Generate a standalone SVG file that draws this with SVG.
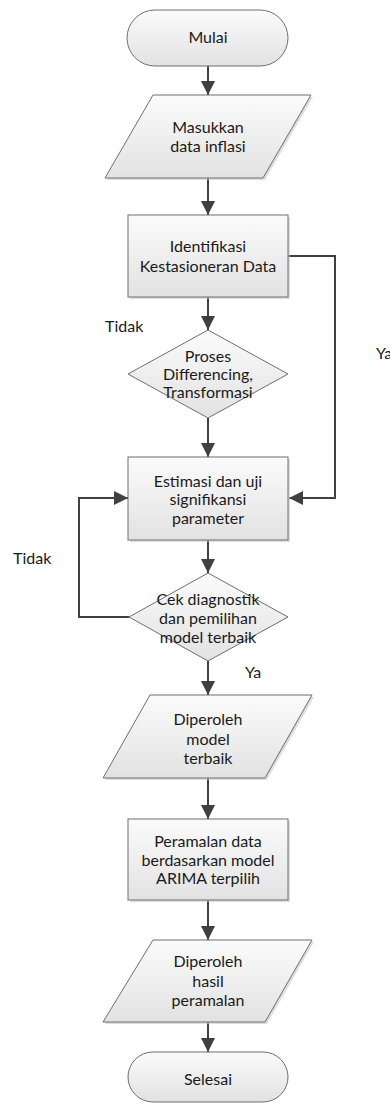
<svg xmlns="http://www.w3.org/2000/svg" width="390" height="1104" viewBox="0 0 390 1104">
<defs>
<linearGradient id="g" x1="0" y1="0" x2="0" y2="1">
<stop offset="0" stop-color="#fbfbfb"/>
<stop offset="1" stop-color="#e2e2e2"/>
</linearGradient>
<marker id="ah" markerUnits="userSpaceOnUse" markerWidth="16" markerHeight="16" viewBox="0 0 16 16" refX="14" refY="8" orient="auto">
<path d="M0,1 L14,8 L0,15 Z" fill="#404040"/>
</marker>
</defs>
<style>
.s{fill:url(#g);stroke:#6e6e6e;stroke-width:1}
.sh{fill:#c8c8c8;opacity:0.6}
.t{font-family:Lato,"Open Sans","Liberation Sans",sans-serif;font-size:16px;fill:#1a1a1a;text-anchor:middle}
.l{font-family:Lato,"Open Sans","Liberation Sans",sans-serif;font-size:16px;fill:#1a1a1a}
.c{fill:none;stroke:#404040;stroke-width:2;marker-end:url(#ah)}
</style>
<g id="connectors">
<path class="c" d="M208,66 V95"/>
<path class="c" d="M208,178 V215"/>
<path class="c" d="M208,297 V330"/>
<path class="c" d="M288,256 H335 V498 H289"/>
<path class="c" d="M208,418 V457"/>
<path class="c" d="M208,540 V573"/>
<path class="c" d="M129,617 H79 V498 H128"/>
<path class="c" d="M208,661 V695"/>
<path class="c" d="M208,778 V819"/>
<path class="c" d="M208,900 V940"/>
<path class="c" d="M208,1022 V1052"/>
</g>
<g id="mulai">
<rect class="s" x="127" y="10" width="161" height="56" rx="28"/>
<text class="t" x="208" y="43">Mulai</text>
</g>
<g id="input">
<polygon class="sh" points="155,97 313,97 265,180 107,180"/>
<polygon class="s" points="153,95 311,95 263,178 105,178"/>
<text class="t" x="208" y="133">Masukkan</text>
<text class="t" x="208" y="152">data inflasi</text>
</g>
<g id="identifikasi">
<rect class="sh" x="130" y="217" width="160" height="82"/>
<rect class="s" x="128" y="215" width="160" height="82"/>
<text class="t" x="208" y="252">Identifikasi</text>
<text class="t" x="208" y="272">Kestasioneran Data</text>
</g>
<g id="differencing">
<polygon class="s" points="208,330 288,374 208,418 128,374"/>
<text class="t" x="208" y="362">Proses</text>
<text class="t" x="208" y="380">Differencing,</text>
<text class="t" x="208" y="398">Transformasi</text>
</g>
<g id="estimasi">
<rect class="sh" x="130" y="459" width="160" height="83"/>
<rect class="s" x="128" y="457" width="160" height="83"/>
<text class="t" x="208" y="487">Estimasi dan uji</text>
<text class="t" x="208" y="505">signifikansi</text>
<text class="t" x="208" y="524">parameter</text>
</g>
<g id="diagnostik">
<polygon class="s" points="208,573 288,617 208,661 129,617"/>
<text class="t" x="208" y="605">Cek diagnostik</text>
<text class="t" x="208" y="624">dan pemilihan</text>
<text class="t" x="208" y="643">model terbaik</text>
</g>
<g id="model">
<polygon class="sh" points="152,697 314,697 267,780 105,780"/>
<polygon class="s" points="150,695 312,695 265,778 103,778"/>
<text class="t" x="208" y="725">Diperoleh</text>
<text class="t" x="208" y="745">model</text>
<text class="t" x="208" y="764">terbaik</text>
</g>
<g id="peramalan">
<rect class="sh" x="130" y="821" width="160" height="81"/>
<rect class="s" x="128" y="819" width="160" height="81"/>
<text class="t" x="208" y="847">Peramalan data</text>
<text class="t" x="208" y="866">berdasarkan model</text>
<text class="t" x="208" y="884">ARIMA terpilih</text>
</g>
<g id="hasil">
<polygon class="sh" points="155,942 314,942 267,1024 105,1024"/>
<polygon class="s" points="153,940 312,940 265,1022 103,1022"/>
<text class="t" x="208" y="967">Diperoleh</text>
<text class="t" x="208" y="987">hasil</text>
<text class="t" x="208" y="1006">peramalan</text>
</g>
<g id="selesai">
<rect class="s" x="128" y="1052" width="160" height="50" rx="25"/>
<text class="t" x="208" y="1085">Selesai</text>
</g>
<g id="labels">
<text class="l" x="105" y="332">Tidak</text>
<text class="l" x="376" y="359">Ya</text>
<text class="l" x="13" y="564">Tidak</text>
<text class="l" x="245" y="678">Ya</text>
</g>
</svg>
